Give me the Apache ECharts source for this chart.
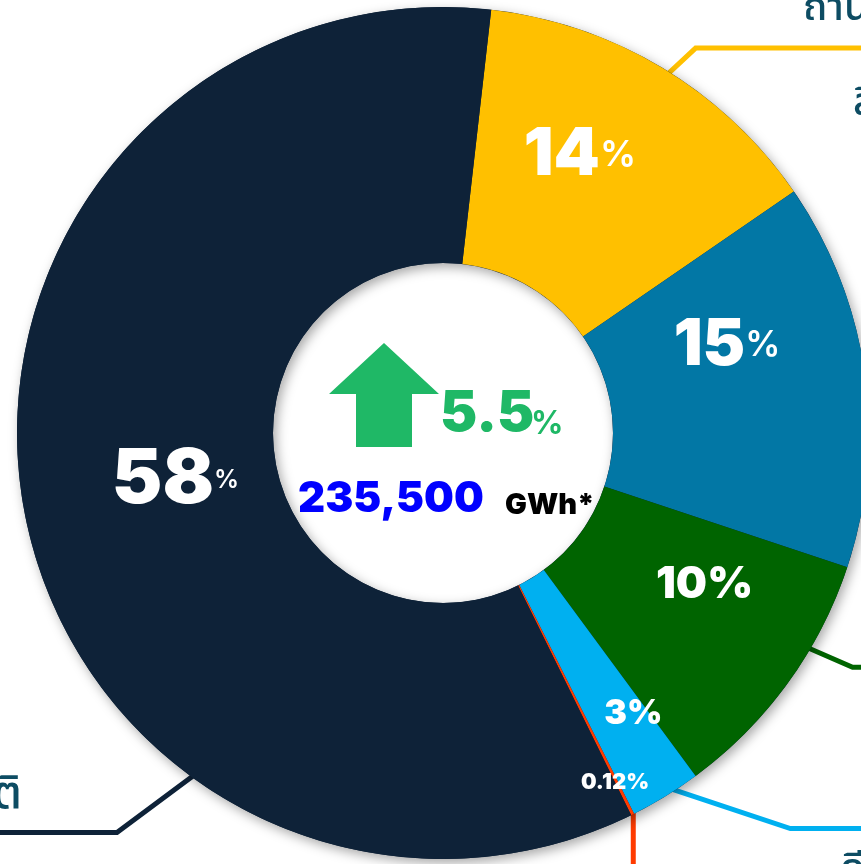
<!DOCTYPE html>
<html>
<head>
<meta charset="utf-8">
<style>
  html, body { margin: 0; padding: 0; background: #fff; }
  #main { width: 861px; height: 864px; }
</style>
<script src="https://cdn.jsdelivr.net/npm/echarts@6/dist/echarts.min.js"></script>
</head>
<body>
<div id="main"></div>
<script>
// fuel mix, slice order clockwise from the top
var fuels = ['ถ่านหิน', 'พลังงานหมุนเวียน', 'ไฟฟ้านำเข้า', 'ดีเซล', 'น้ำมันเตา', 'ก๊าซธรรมชาติ'];
var shares = [13.6, 14.7, 9.8, 2.7, 0.12, 59.1];
var shareLabels = ['14', '15', '10', '3', '0.12', '58'];
var growth = '5.5';
var total = '235,500';
var unit = 'GWh*';

var colors = ['#FFC000', '#0277A5', '#006400', '#00B0F0', '#FF3B00', '#0E2238'];
var cx = 443, cy = 433, r0 = 170, r1 = 426;
var font = 'Inter, Lato, sans-serif';
var thaiFont = '"Noto Sans Thai", "Noto Sans", "DejaVu Sans", sans-serif';

// label tweaks (size of number, size of %, nudge)
var numSize = [66, 64, 44, 34, 22, 76];
var pctSize = [36, 35, 44, 34, 22, 25];
var nudge = [[-18, -20], [-14, -45], [18, -25], [33, 24], [38, 80], [29, -4]];

var rich = {};
numSize.forEach(function (s, i) {
  rich['n' + i] = { fontSize: s, fontWeight: 900, color: '#fff', fontFamily: font };
  rich['p' + i] = { fontSize: pctSize[i], fontWeight: i >= 2 && i <= 4 ? 900 : 600, color: '#fff', fontFamily: font };
});

function pt(angle, r) {
  var a = angle * Math.PI / 180;
  return [cx + r * Math.sin(a), cy - r * Math.cos(a)];
}
function callout(angle, off, endX, color) {
  var s = pt(angle, r1 - 4);
  var b = [s[0] + off[0], s[1] + off[1]];
  var pts = [s, b];
  if (endX != null) pts.push([endX, b[1]]);
  return {
    type: 'polyline', z: 1, silent: true,
    shape: { points: pts },
    style: { stroke: color, lineWidth: 5, fill: null, lineJoin: 'miter' }
  };
}

var chart = echarts.init(document.getElementById('main'));
chart.setOption({
  animation: false,
  backgroundColor: '#fff',
  series: [
    {
      type: 'pie', silent: true, z: 1,
      center: [cx, cy], radius: [r0, r1],
      label: { show: false }, labelLine: { show: false },
      itemStyle: {
        color: '#0E2238', shadowBlur: 12, shadowOffsetX: 3, shadowOffsetY: 4,
        shadowColor: 'rgba(0,0,0,0.35)'
      },
      data: [{ value: 1 }]
    },
    {
      type: 'pie', silent: true, z: 3,
      center: [cx, cy], radius: [r0, r1],
      startAngle: 83.5, clockwise: true,
      avoidLabelOverlap: false, minAngle: 0,
      data: shares.map(function (v, i) {
        return { name: fuels[i], value: v, itemStyle: { color: colors[i] } };
      }),
      label: {
        show: true, position: 'inside',
        formatter: function (p) {
          var i = p.dataIndex;
          return '{n' + i + '|' + shareLabels[i] + '}{p' + i + '|%}';
        },
        rich: rich
      },
      labelLine: { show: false },
      labelLayout: function (p) {
        return { dx: nudge[p.dataIndex][0], dy: nudge[p.dataIndex][1] };
      }
    }
  ],
  graphic: [
    callout(32.0, [29, -27], 900, colors[0]),
    callout(216, [-78, 58], -40, colors[5]),
    callout(120.5, [46, 20], 900, colors[2]),
    callout(147.4, [120, 40], 900, colors[3]),
    callout(153.2, [0, 80], null, colors[4]),
    {
      type: 'text', z: 5, silent: true,
      style: { x: 803, y: 32, text: fuels[0], font: '500 40px ' + thaiFont, fill: '#0D4C63', textVerticalAlign: 'bottom' }
    },
    {
      type: 'text', z: 5, silent: true,
      style: { x: 853, y: 127, text: 'ลิกไนต์', font: '500 40px ' + thaiFont, fill: '#0D4C63', textVerticalAlign: 'bottom' }
    },
    {
      type: 'text', z: 5, silent: true,
      style: { x: 22, y: 822, text: fuels[5], font: '500 46px ' + thaiFont, fill: '#0D4C63', textAlign: 'right', textVerticalAlign: 'bottom' }
    },
    {
      type: 'text', z: 5, silent: true,
      style: { x: 840, y: 853, text: fuels[3], font: '500 40px ' + thaiFont, fill: '#0D4C63', textVerticalAlign: 'top' }
    },
    {
      type: 'polygon', z: 5, silent: true,
      shape: { points: [[384, 343], [439, 394], [412, 394], [412, 447], [356, 447], [356, 394], [329, 394]] },
      style: { fill: '#1FB866' }
    },
    {
      type: 'text', z: 5, silent: true,
      style: { x: 440, y: 414, text: growth, font: '900 56px ' + font, fill: '#1FB866', textVerticalAlign: 'middle' }
    },
    {
      type: 'text', z: 5, silent: true,
      style: { x: 531, y: 424, text: '%', font: '700 32px ' + font, fill: '#1FB866', textVerticalAlign: 'middle' }
    },
    {
      type: 'text', z: 5, silent: true,
      style: { x: 298, y: 499, text: total, font: '900 42px ' + font, fill: '#0000FF', textVerticalAlign: 'middle' }
    },
    {
      type: 'text', z: 5, silent: true,
      style: { x: 505, y: 505, text: unit, font: '900 29px ' + font, fill: '#000', textVerticalAlign: 'middle' }
    }
  ]
});
</script>
</body>
</html>
